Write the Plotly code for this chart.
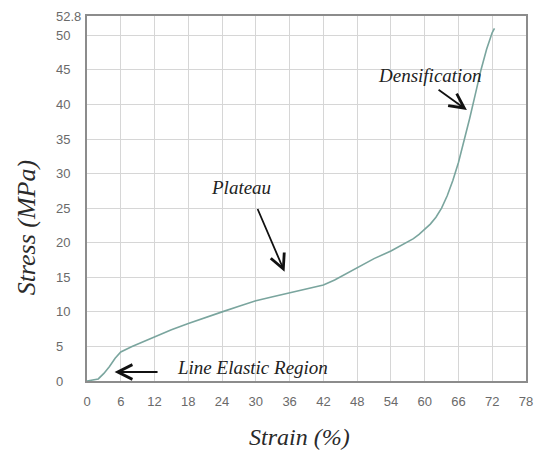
import plotly.graph_objects as go

# Compressive stress-strain response
strain = [0, 1, 2, 3, 4, 5, 6, 8, 10, 12, 15, 18, 21, 24, 27, 30, 33, 36, 39, 42,
          44, 46, 48, 51, 54, 56, 58, 59, 60, 61, 62, 63, 64, 65, 66, 67, 68, 69,
          70, 71, 72, 72.4]
stress = [0, 0.1, 0.3, 1.1, 2.1, 3.3, 4.2, 5.0, 5.7, 6.4, 7.4, 8.3, 9.2, 10.0, 10.8,
          11.6, 12.2, 12.8, 13.3, 13.9, 14.6, 15.5, 16.4, 17.7, 18.8, 19.7, 20.6,
          21.2, 21.9, 22.7, 23.7, 25.0, 26.8, 29.0, 31.6, 34.6, 38.0, 41.5, 45.0,
          48.0, 50.4, 51.0]

x_ticks = list(range(0, 79, 6))
y_ticks = [0, 5, 10, 15, 20, 25, 30, 35, 40, 45, 50]
y_max = 52.8

# Region labels: (text, anchor, text x, text y, arrow tail x, tail y, arrow head x, head y)
regions = [
    ("Line Elastic Region", "left", 15.6, 2.0, 12.8, 1.3, 4.9, 1.3),
    ("Plateau", "center", 27.4, 28.0, 30.2, 25.1, 35.1, 15.8),
    ("Densification", "center", 60.8, 44.2, 62.2, 42.3, 67.5, 39.2),
]

SERIF = "Liberation Serif, Times New Roman, serif"
TICK_FONT = dict(family="Liberation Sans, Arial, sans-serif", size=13, color="#6a6a6a")

fig = go.Figure()
fig.add_trace(go.Scatter(
    x=strain, y=stress, mode="lines",
    line=dict(color="#7aa59e", width=1.6),
    showlegend=False, hoverinfo="skip",
))

annotations = []
# y tick labels, left-aligned in a column beside the axis
for v in y_ticks + [y_max]:
    annotations.append(dict(
        x=0, xref="paper", y=v, yref="y", xanchor="left", yanchor="middle",
        xshift=-33, text=f"{v:g}", showarrow=False, font=TICK_FONT,
    ))

for text, anchor, tx, ty, ax_, ay_, hx, hy in regions:
    annotations.append(dict(x=tx, y=ty, xref="x", yref="y", xanchor=anchor,
                            yanchor="middle", text=f"<i>{text}</i>", showarrow=False,
                            font=dict(family=SERIF, size=19, color="#222222")))
    annotations.append(dict(
        x=hx, y=hy, xref="x", yref="y", ax=ax_, ay=ay_, axref="x", ayref="y",
        text="", showarrow=True, arrowhead=5, arrowsize=1.6, arrowwidth=1.8,
        arrowcolor="#111111",
    ))

# axis titles
annotations.append(dict(x=0.484, y=-0.153, xref="paper", yref="paper",
                        text="<i>Strain (%)</i>", showarrow=False,
                        xanchor="center", yanchor="middle",
                        font=dict(family=SERIF, size=24, color="#2a2a2a")))
annotations.append(dict(x=-0.137, y=0.4205, xref="paper", yref="paper",
                        text="<i>Stress (MPa)</i>", showarrow=False, textangle=-90,
                        xanchor="center", yanchor="middle",
                        font=dict(family=SERIF, size=26, color="#2a2a2a")))

fig.update_layout(
    width=544, height=450,
    margin=dict(l=87, r=11, t=16, b=69),
    paper_bgcolor="white", plot_bgcolor="white",
    annotations=annotations,
    xaxis=dict(
        range=[0, 78], tickvals=x_ticks, ticktext=[str(t) for t in x_ticks],
        showgrid=True, gridcolor="#d6d6d6", gridwidth=1,
        showline=True, linecolor="#8c8c8c", linewidth=1.5, mirror=True,
        zeroline=False, ticks="", tickfont=TICK_FONT, ticklabelstandoff=8,
    ),
    yaxis=dict(
        range=[0, y_max], tickvals=y_ticks + [y_max], showticklabels=False,
        showgrid=True, gridcolor="#d6d6d6", gridwidth=1,
        showline=True, linecolor="#8c8c8c", linewidth=1.5, mirror=True,
        zeroline=False, ticks="",
    ),
)

fig.write_html("out.html")
